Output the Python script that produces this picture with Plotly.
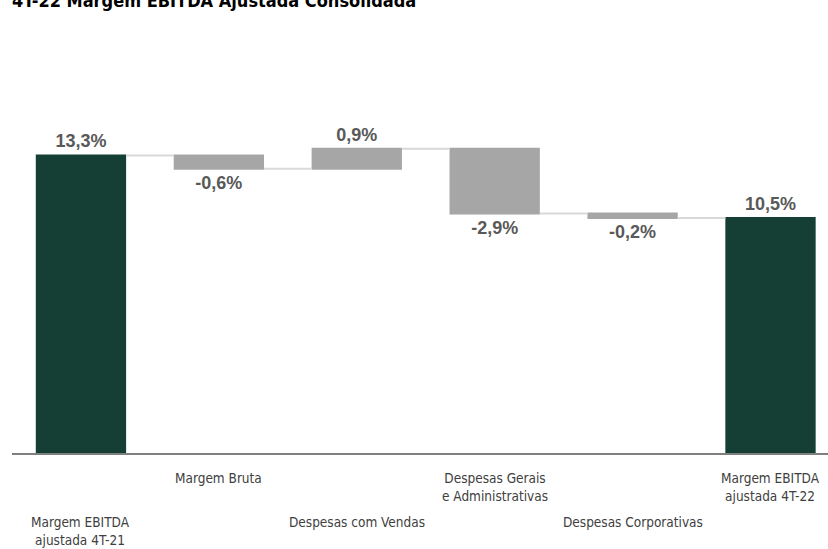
import plotly.graph_objects as go

categories = ["Margem EBITDA<br>ajustada 4T-21", "Margem Bruta", "Despesas com Vendas",
              "Despesas Gerais<br>e Administrativas", "Despesas Corporativas",
              "Margem EBITDA<br>ajustada 4T-22"]
values = [13.3, -0.6, 0.9, -2.9, -0.2, 10.5]
measures = ["absolute", "relative", "relative", "relative", "relative", "total"]
label_row = [1, 0, 1, 0, 1, 0]  # 0 = upper row, 1 = lower row
title = "4T-22 Margem EBITDA Ajustada Consolidada"

texts = [f"{v:.1f}%".replace(".", ",") for v in values]
xs = list(range(len(categories)))

GREEN = "#153f35"
GRAY = "#a6a6a6"
LABEL_FONT = "DejaVu Sans Condensed, Liberation Sans Narrow, Arial Narrow, sans-serif"

fig = go.Figure(go.Waterfall(
    x=xs, y=[v if m != "total" else 0 for v, m in zip(values, measures)],
    measure=measures,
    text=texts, textposition="outside",
    textfont=dict(family="Liberation Sans, Arial, sans-serif", size=18, color="#595959", weight="bold"),
    width=0.655,
    increasing=dict(marker=dict(color=GRAY, line=dict(width=0))),
    decreasing=dict(marker=dict(color=GRAY, line=dict(width=0))),
    totals=dict(marker=dict(color=GREEN, line=dict(width=0))),
    connector=dict(mode="between", line=dict(color="#d9d9d9", width=2)),
    cliponaxis=False,
    hoverinfo="skip",
))

annotations = []
for i, (c, r) in enumerate(zip(categories, label_row)):
    annotations.append(dict(
        x=xs[i], xref="x", y=-0.043 if r == 0 else -0.166, yref="paper",
        yanchor="top", xanchor="center", text=c, showarrow=False,
        font=dict(family=LABEL_FONT, size=13.5, color="#404040"), align="center",
    ))

fig.update_layout(
    width=828, height=549,
    margin=dict(l=12, r=0, t=95, b=96),
    paper_bgcolor="white", plot_bgcolor="white",
    showlegend=False,
    title=dict(text=f"<b>{title}</b>", x=12/828, xanchor="left", xref="container",
               y=0.999, yref="container", yanchor="middle",
               font=dict(family=LABEL_FONT, size=18, color="black")),
    xaxis=dict(range=[-0.5, 5.417], showticklabels=False, showgrid=False, zeroline=False,
               showline=True, linecolor="#7f7f7f", linewidth=2, ticks=""),
    yaxis=dict(range=[0, 16], visible=False, showgrid=False, zeroline=False),
    annotations=annotations,
)

fig.write_html("out.html")
